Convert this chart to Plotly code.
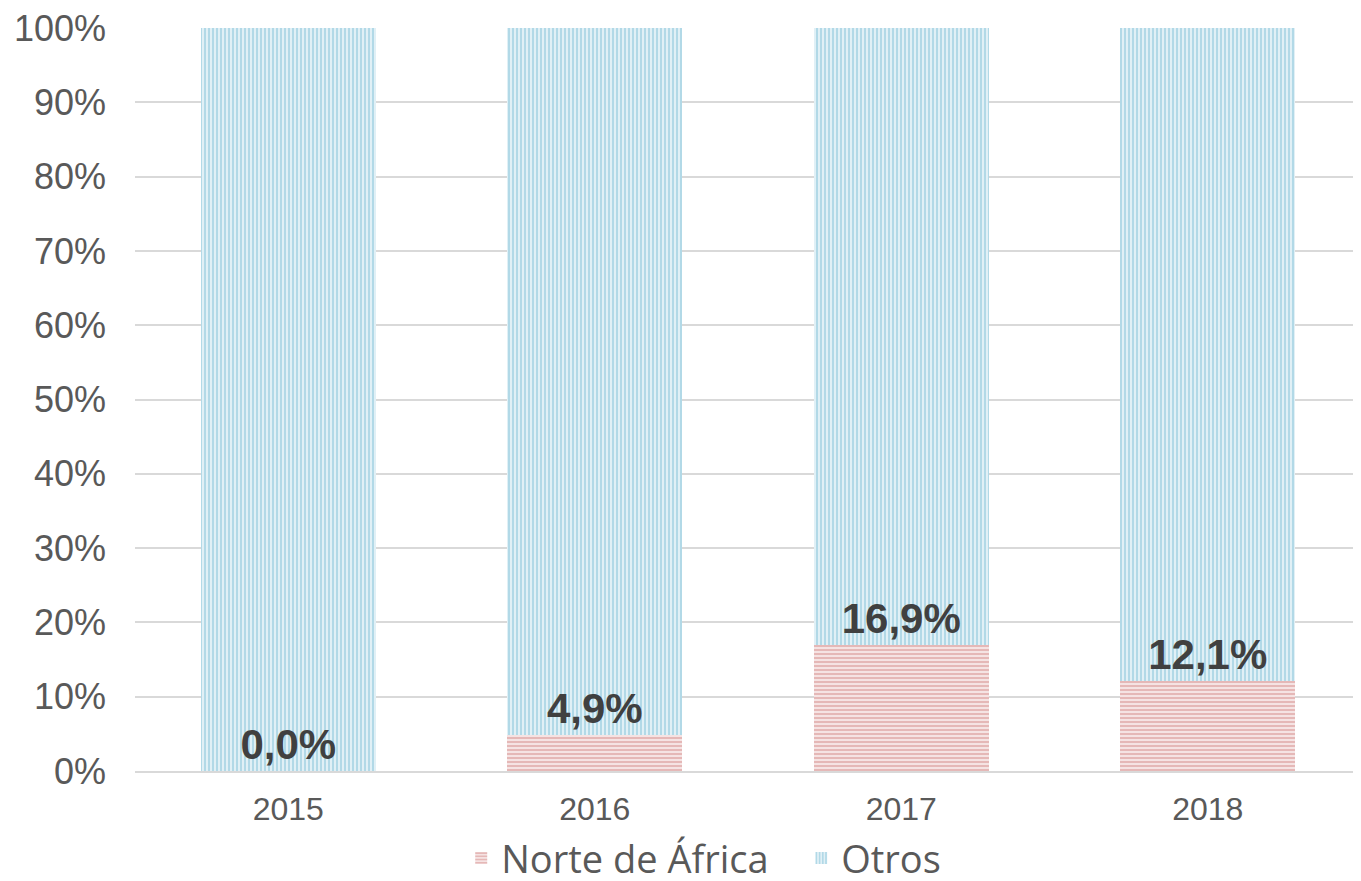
import plotly.graph_objects as go

years = ["2015", "2016", "2017", "2018"]
norte = [0.0, 4.9, 16.9, 12.1]
otros = [100.0, 95.1, 83.1, 87.9]
labels = ["0,0%", "4,9%", "16,9%", "12,1%"]
yticks = [0, 10, 20, 30, 40, 50, 60, 70, 80, 90, 100]

RED = "#CC7170"
BLUE = "#65B4D0"

fig = go.Figure()
fig.add_trace(go.Bar(
    x=years, y=norte, name="Norte de África",
    marker=dict(color=RED, line=dict(width=0),
                pattern=dict(shape="-", fgcolor=RED, bgcolor="white", size=4, solidity=0.7)),
    hoverinfo="skip",
))
fig.add_trace(go.Bar(
    x=years, y=otros, name="Otros",
    text=["<b>%s</b>" % s for s in labels], textposition="inside",
    insidetextanchor="start", constraintext="none", textangle=0,
    insidetextfont=dict(family="Liberation Sans, Arial", size=42, color="#404040"),
    marker=dict(color=BLUE, line=dict(width=0),
                pattern=dict(shape="|", fgcolor=BLUE, bgcolor="white", size=4, solidity=0.7)),
    hoverinfo="skip",
))

fig.update_layout(
    barmode="stack", bargap=0.43,
    width=1361, height=881,
    margin=dict(l=127, r=8, t=20, b=118, autoexpand=False),
    plot_bgcolor="white", paper_bgcolor="white",
    font=dict(family="Liberation Sans, Arial", color="#595959"),
    legend=dict(orientation="h", xref="container", x=0.333, xanchor="left",
                y=-0.075, yanchor="top", traceorder="normal",
                entrywidth=295, entrywidthmode="pixels",
                font=dict(family="Open Sans, Calibri, sans-serif", size=38, color="#595959")),
    yaxis=dict(range=[0, 100], tickmode="array", tickvals=yticks,
               ticktext=["%d%%" % v for v in yticks], showgrid=True,
               gridcolor="#D9D9D9", gridwidth=1.5, zeroline=False, automargin=False,
               ticklabeloverflow="allow",
               tickfont=dict(size=36, color="#595959"), ticks="", ticklabelstandoff=28),
    xaxis=dict(type="category", showline=True, linecolor="#D9D9D9", linewidth=1.5,
               automargin=False, ticklabelstandoff=9,
               tickfont=dict(size=32, color="#595959"), ticks=""),
)

fig.write_html("out.html")
